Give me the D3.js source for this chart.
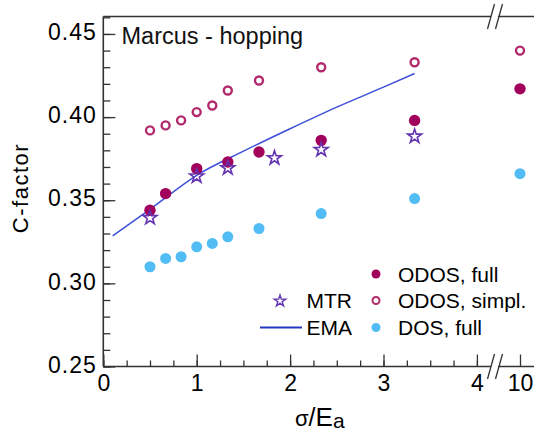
<!DOCTYPE html>
<html>
<head>
<meta charset="utf-8">
<script src="https://cdn.jsdelivr.net/npm/d3@7"></script>
<style>
  body { margin: 0; background: #fff; }
  svg { display: block; font-family: "Liberation Sans", Arial, sans-serif; }
</style>
</head>
<body>
<div id="chart"></div>
<script>
// 数据
const xGrid = [0.5, 0.667, 0.833, 1.0, 1.167, 1.333, 1.667, 2.333, 3.333, 10];
const odosSimpl = [0.392, 0.395, 0.398, 0.403, 0.407, 0.416, 0.422, 0.430, 0.433, 0.440];
const dosFull = [0.310, 0.315, 0.316, 0.322, 0.324, 0.328, 0.333, 0.342, 0.351, 0.366];

const xOdosFull = [0.5, 0.667, 1.0, 1.333, 1.667, 2.333, 3.333, 10];
const odosFull = [0.344, 0.354, 0.369, 0.373, 0.379, 0.386, 0.398, 0.417];

const xMtr = [0.5, 1.0, 1.333, 1.833, 2.333, 3.333];
const mtr = [0.340, 0.365, 0.370, 0.376, 0.381, 0.389];

const xEma = [0.1, 0.5, 1.0, 1.5, 2.0, 2.5, 3.0, 3.333];
const ema = [0.3285, 0.3445, 0.365, 0.3795, 0.393, 0.406, 0.418, 0.4262];

const xTicks = [0, 1, 2, 3, 4];
const xMinor = d3.range(0, 4.01, 0.25);
const yTicks = [0.25, 0.30, 0.35, 0.40, 0.45];
const yMinor = d3.range(0.25, 0.4605, 0.01);

const legendItems = [
    { label: 'ODOS, full', type: 'full' },
    { label: 'ODOS, simpl.', type: 'simpl' },
    { label: 'DOS, full', type: 'dos' }
];

const colFull = '#a1005b';
const colSimpl = '#b32a6c';
const colDos = '#52bdf4';
const colMtr = '#6434b0';
const colEma = '#3d4fd6';

const W = 534, H = 434;
const plotLeft = 103.3, plotBottom = 366.5, plotTop = 16.5;
const breakX = 495;

const svg = d3.select('#chart').append('svg')
    .attr('width', W)
    .attr('height', H);

// 比例尺：主段 0-4，断轴后 10
const x = d3.scaleLinear().domain([0, 4]).range([plotLeft, plotLeft + 4 * 93.4]);
const xFar = d3.scaleLinear().domain([10, 10.25]).range([520, 520 + 0.25 * 93.4]);
const xPos = v => v > 5 ? xFar(v) : x(v);
const y = d3.scaleLinear().domain([0.25, 0.4605]).range([plotBottom, plotTop]);

// 坐标轴刻度
const fontTick = '23px';

svg.append('g')
    .attr('transform', `translate(0,${plotBottom})`)
    .call(d3.axisBottom(x).tickValues(xMinor).tickSize(-6).tickSizeOuter(0).tickFormat(''))
    .call(g => g.select('.domain').remove());

svg.append('g')
    .attr('transform', `translate(0,${plotBottom})`)
    .call(d3.axisBottom(x).tickValues(xTicks).tickSize(-12).tickSizeOuter(0).tickPadding(8.5).tickFormat(d3.format('d')))
    .call(g => g.select('.domain').remove())
    .call(g => g.selectAll('text').attr('font-size', fontTick).attr('fill', '#000').attr('font-family', null));

svg.append('g')
    .attr('transform', `translate(0,${plotBottom})`)
    .call(d3.axisBottom(xFar).tickValues([10]).tickSize(-12).tickSizeOuter(0).tickPadding(8.5).tickFormat(d3.format('d')))
    .call(g => g.select('.domain').remove())
    .call(g => g.selectAll('text').attr('font-size', fontTick).attr('fill', '#000').attr('font-family', null));

svg.append('g')
    .attr('transform', `translate(${plotLeft},0)`)
    .call(d3.axisLeft(y).tickValues(yMinor).tickSize(-7).tickSizeOuter(0).tickFormat(''))
    .call(g => g.select('.domain').remove());

svg.append('g')
    .attr('transform', `translate(${plotLeft},0)`)
    .call(d3.axisLeft(y).tickValues(yTicks).tickSize(-12).tickSizeOuter(0).tickPadding(6.5).tickFormat(d3.format('.2f')))
    .call(g => g.select('.domain').remove())
    .call(g => g.selectAll('text').attr('font-size', fontTick).attr('fill', '#000')
        .attr('font-family', null).attr('letter-spacing', '1px').attr('dy', '0.25em'));

svg.selectAll('.tick line').attr('stroke', '#333').attr('stroke-width', 1.3);

// 边框线
const frame = svg.append('g').attr('stroke', '#333').attr('stroke-width', 1.6).attr('fill', 'none');
frame.append('line').attr('x1', plotLeft).attr('x2', W).attr('y1', plotBottom).attr('y2', plotBottom);
frame.append('line').attr('x1', plotLeft).attr('x2', W).attr('y1', plotTop).attr('y2', plotTop);
frame.append('line').attr('x1', plotLeft).attr('x2', plotLeft).attr('y1', plotTop).attr('y2', plotBottom);

// 断轴标记
[plotTop, plotBottom].forEach(yy => {
    svg.append('path')
        .attr('d', `M${breakX - 7},${yy + 12}L${breakX - 1},${yy - 12}L${breakX + 6},${yy - 12}L${breakX},${yy + 12}Z`)
        .attr('fill', '#fff');
    [-4, 4].forEach(o => {
        svg.append('line')
            .attr('x1', breakX + o - 3.5).attr('y1', yy + 12.5)
            .attr('x2', breakX + o + 3.5).attr('y2', yy - 12.5)
            .attr('stroke', '#333').attr('stroke-width', 1.3);
    });
});

// EMA 曲线
const emaData = xEma.map((v, i) => [v, ema[i]]);
svg.append('path')
    .datum(emaData)
    .attr('fill', 'none')
    .attr('stroke', colEma)
    .attr('stroke-width', 1.5)
    .attr('d', d3.line().x(d => x(d[0])).y(d => y(d[1])).curve(d3.curveMonotoneX));

// DOS, full
svg.append('g').selectAll('circle')
    .data(xGrid.map((v, i) => [v, dosFull[i]]))
    .enter().append('circle')
    .attr('cx', d => xPos(d[0]))
    .attr('cy', d => y(d[1]))
    .attr('r', 5.5)
    .attr('fill', colDos);

// ODOS, full
svg.append('g').selectAll('circle')
    .data(xOdosFull.map((v, i) => [v, odosFull[i]]))
    .enter().append('circle')
    .attr('cx', d => xPos(d[0]))
    .attr('cy', d => y(d[1]))
    .attr('r', 5.7)
    .attr('fill', colFull);

// ODOS, simpl.
svg.append('g').selectAll('circle')
    .data(xGrid.map((v, i) => [v, odosSimpl[i]]))
    .enter().append('circle')
    .attr('cx', d => xPos(d[0]))
    .attr('cy', d => y(d[1]))
    .attr('r', 4)
    .attr('fill', '#fff')
    .attr('stroke', colSimpl)
    .attr('stroke-width', 2.4);

// MTR 星形
const star = d3.symbol().type(d3.symbolStar);
svg.append('g').selectAll('path')
    .data(xMtr.map((v, i) => [v, mtr[i]]))
    .enter().append('path')
    .attr('transform', d => `translate(${xPos(d[0])},${y(d[1]) + 1})`)
    .attr('d', star.size(60)())
    .attr('fill', 'none')
    .attr('stroke', colMtr)
    .attr('stroke-width', 1.6);

// 标题文字
svg.append('text')
    .attr('x', 121.5)
    .attr('y', 43.5)
    .attr('font-size', '23.5px')
    .attr('fill', '#111')
    .text('Marcus - hopping');

svg.append('text')
    .attr('transform', 'translate(28,188) rotate(-90)')
    .attr('text-anchor', 'middle')
    .attr('font-size', '22px')
    .attr('letter-spacing', '1.5px')
    .text('C-factor');

const xt = svg.append('text')
    .attr('x', 295)
    .attr('y', 426);
xt.append('tspan').attr('font-size', '22px').text('σ');
xt.append('tspan').attr('font-size', '25px').text('/');
xt.append('tspan').attr('font-size', '26px').text('E');
xt.append('tspan').attr('font-size', '21px').attr('dy', 2).text('a');

// 图例
const legendX = 376, legendTextX = 398;
const legendY = [274, 300.5, 327.5];

const lg = svg.append('g').attr('font-size', '21px');
lg.append('circle').attr('cx', legendX).attr('cy', legendY[0]).attr('r', 4.5).attr('fill', colFull);
lg.append('circle').attr('cx', legendX).attr('cy', legendY[1]).attr('r', 3.5)
    .attr('fill', '#fff').attr('stroke', colSimpl).attr('stroke-width', 2);
lg.append('circle').attr('cx', legendX).attr('cy', legendY[2]).attr('r', 4.5).attr('fill', colDos);
legendItems.forEach((d, i) => {
    lg.append('text').attr('x', legendTextX).attr('y', legendY[i] + 7.5).text(d.label);
});

lg.append('path')
    .attr('transform', `translate(280,${legendY[1] + 0.5})`)
    .attr('d', star.size(40)())
    .attr('fill', 'none')
    .attr('stroke', colMtr)
    .attr('stroke-width', 1.4);
lg.append('text').attr('x', 306.5).attr('y', legendY[1] + 7.5).text('MTR');

lg.append('line')
    .attr('x1', 260).attr('x2', 302)
    .attr('y1', legendY[2]).attr('y2', legendY[2])
    .attr('stroke', '#2537c0').attr('stroke-width', 1.8);
lg.append('text').attr('x', 306.5).attr('y', legendY[2] + 7.5).text('EMA');
</script>
</body>
</html>
